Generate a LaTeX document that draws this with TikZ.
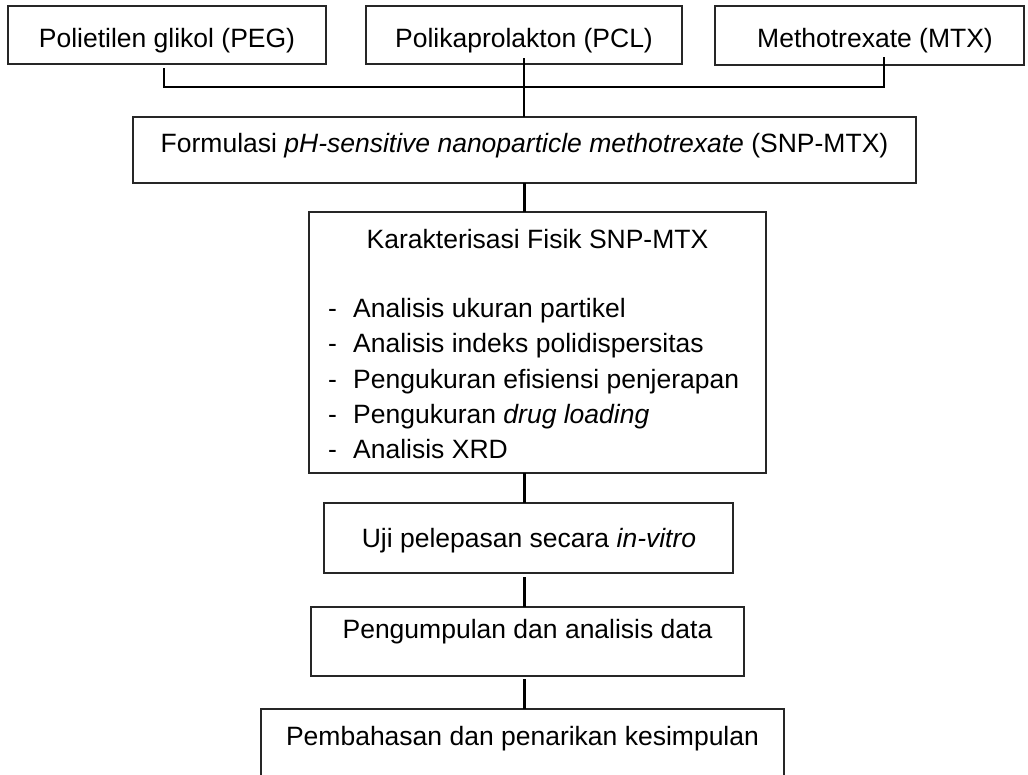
\documentclass[tikz,border=0pt]{standalone}
\usepackage{fontspec}
\setmainfont{Liberation Sans}
\begin{document}
\begin{tikzpicture}[x=1pt,y=-1pt,
  box/.style={draw=black!85, line width=1.2pt, inner sep=0pt, outer sep=0pt},
  conn/.style={line width=2.3pt, black},
  txt/.style={inner sep=0pt, anchor=base, font=\fontsize{26.5}{35.3}\selectfont},
  item/.style={inner sep=0pt, anchor=base west, font=\fontsize{26.5}{35.3}\selectfont}]
\clip (0,0) rectangle (1028,774);
\useasboundingbox (0,0) rectangle (1028,774);
% boxes
\node[box, minimum width=318pt, minimum height=58pt] (peg) at (167,35) {};
\node[box, minimum width=316pt, minimum height=58pt] (pcl) at (524,35) {};
\node[box, minimum width=309pt, minimum height=59pt] (mtx) at (869.5,35.5) {};
\node[box, minimum width=783pt, minimum height=66pt] (form) at (524.5,150) {};
\node[box, minimum width=457pt, minimum height=261pt] (kar) at (537.5,342.5) {};
\node[box, minimum width=409pt, minimum height=70pt] (uji) at (528.5,538) {};
\node[box, minimum width=433pt, minimum height=69pt] (peng) at (527.5,641.5) {};
\node[box, minimum width=523pt, minimum height=111pt] (pem) at (522.5,764.5) {};
% texts
\node[txt] (tpeg) at (167,47) {Polietilen glikol (PEG)};
\node[txt] (tpcl) at (524,47) {Polikaprolakton (PCL)};
\node[txt] (tmtx) at (875,47) {Methotrexate (MTX)};
\node[txt] (tform) at (524.5,152) {Formulasi \textit{pH-sensitive nanoparticle methotrexate} (SNP-MTX)};
\node[txt] (tkar) at (537.5,248) {Karakterisasi Fisik SNP-MTX};
\node[item] (i1) at (328,317) {\makebox[25pt][l]{-}Analisis ukuran partikel};
\node[item] (i2) at (328,352.5) {\makebox[25pt][l]{-}Analisis indeks polidispersitas};
\node[item] (i3) at (328,388) {\makebox[25pt][l]{-}Pengukuran efisiensi penjerapan};
\node[item] (i4) at (328,423) {\makebox[25pt][l]{-}Pengukuran \textit{drug loading}};
\node[item] (i5) at (328,458.5) {\makebox[25pt][l]{-}Analisis XRD};
\node[txt] (tuji) at (529,547) {Uji pelepasan secara \textit{in-vitro}};
\node[txt] (tpeng) at (527.5,638) {Pengumpulan dan analisis data};
\node[txt] (tpem) at (522.5,745) {Pembahasan dan penarikan kesimpulan};
% connectors
\coordinate (jL) at (164,87);
\coordinate (jR) at (884,87);
\draw[conn] ([yshift=-4pt]peg.south -| jL) -- (jL) -- (jR) -- ([yshift=8pt]mtx.south -| jR);
\draw[conn] ([yshift=6pt]pcl.south) -- (form.north -| pcl.south);
\draw[conn] (form.south) -- (form.south |- kar.north);
\draw[conn] (kar.south -| form.south) -- (uji.north -| form.south);
\draw[conn] ([yshift=-4pt]uji.south -| form.south) -- (peng.north -| form.south);
\draw[conn] ([yshift=-3pt]peng.south -| form.south) -- (pem.north -| form.south);
\end{tikzpicture}
\end{document}
